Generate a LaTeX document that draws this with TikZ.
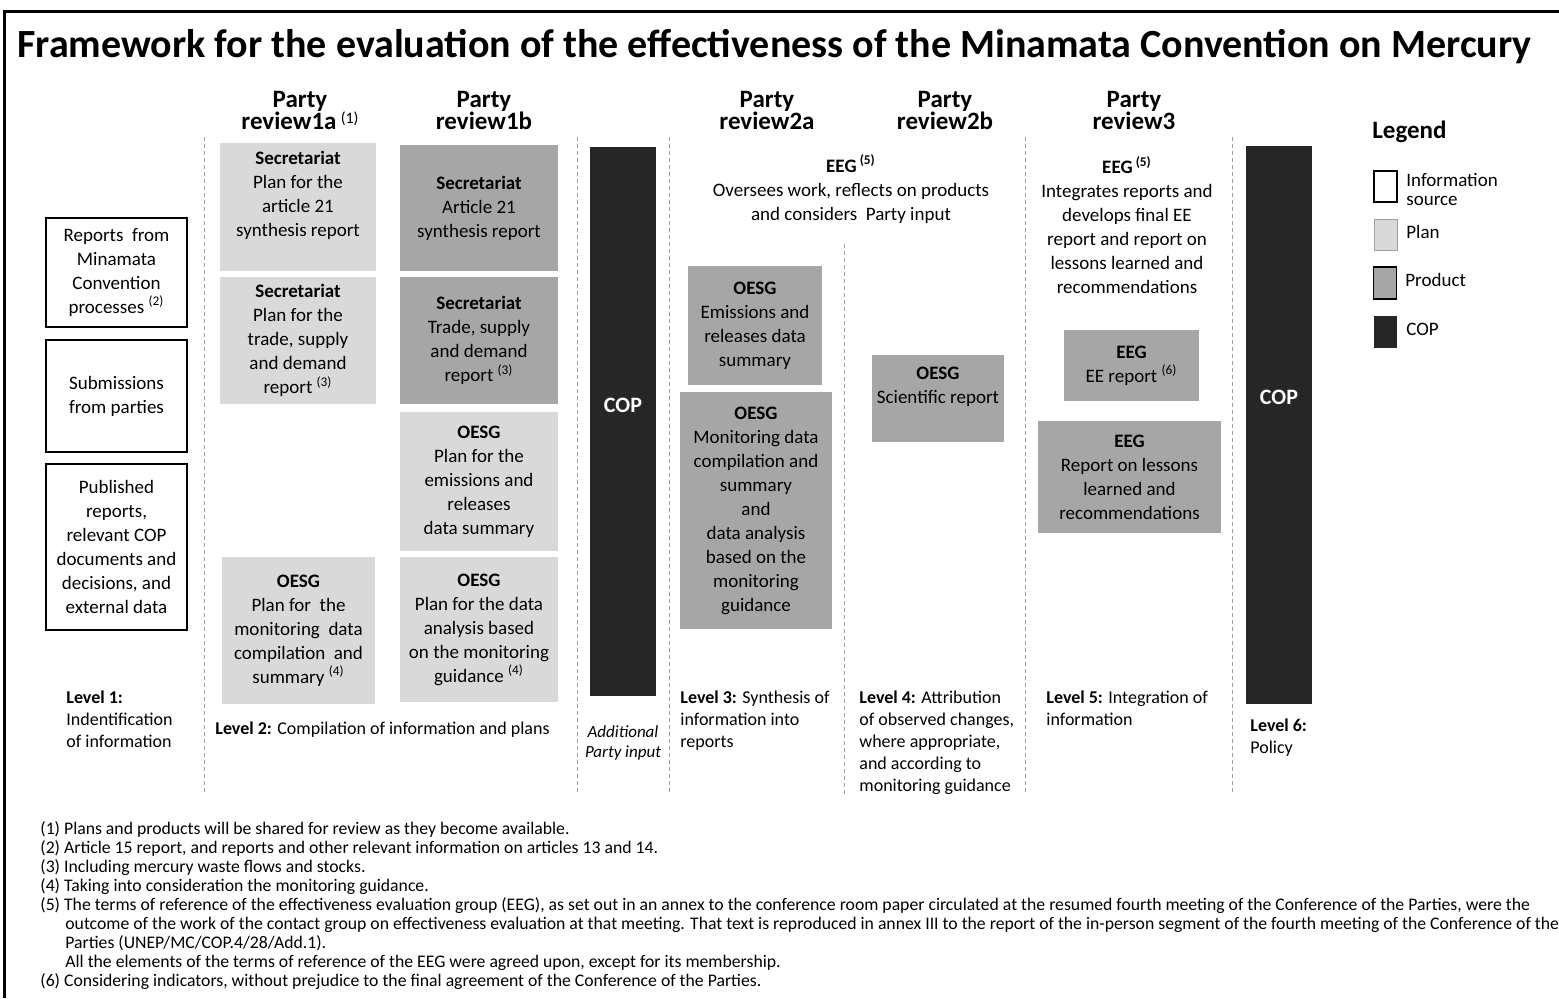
\documentclass[tikz,border=0pt]{standalone}
\usepackage{fontspec}
\setmainfont{Carlito}
\definecolor{planc}{HTML}{D9D9D9}
\definecolor{prodc}{HTML}{A6A6A6}
\definecolor{copc}{HTML}{262626}
\definecolor{sepc}{HTML}{A0A0A0}
\begin{document}
\begin{tikzpicture}[x=0.5pt,y=-0.5pt,
	every node/.style={font=\fontsize{9.5}{12}\selectfont,align=center,inner sep=0pt},
	sz/.style 2 args={minimum width=#1pt,minimum height=#2pt},
	src/.style={draw=black,line width=0.8pt,fill=white},
	plan/.style={fill=planc},
	prod/.style={fill=prodc},
	cop/.style={fill=copc,text=white,font=\fontsize{11}{12}\selectfont\bfseries},
	sep/.style={draw=sepc,dash pattern=on 2pt off 1.5pt,line width=0.5pt},
	hdr/.style={font={\fontsize{12.5}{11}\selectfont\bfseries\lineskiplimit=-\maxdimen}},
	lvl/.style={font=\fontsize{9}{11}\selectfont,align=left,anchor=north west},
	key/.style={font=\fontsize{9.5}{9.5}\selectfont,align=left,anchor=west}]
	\useasboundingbox (0,0) rectangle (1559,998);
	\draw[line width=1.5pt] (4,998) -- (4,11) -- (1559,11);
	\node[anchor=west,font=\fontsize{20}{24}\selectfont\bfseries] (title) at (17,47) {Framework for the evaluation of the effectiveness of the Minamata Convention on Mercury};
	
	\node[hdr] (h1a) at (300,110) {Party\\review1a\,\raisebox{3pt}{\fontsize{8}{8}\selectfont\mdseries(1)}};
	\node[hdr] (h1b) at (484,110) {Party\\review1b};
	\node[hdr] (h2a) at (767,110) {Party\\review2a};
	\node[hdr] (h2b) at (945,110) {Party\\review2b};
	\node[hdr] (h3) at (1134,110) {Party\\review3};
	
	\draw[sep] (204,137) -- (204,795);
	\draw[sep] (577,137) -- (577,795);
	\draw[sep] (669,137) -- (669,795);
	\draw[sep] (844,244) -- (844,795);
	\draw[sep] (1025,137) -- (1025,795);
	\draw[sep] (1232,137) -- (1232,795);
	
	\node[src,sz={70.5}{54.5}] (src1) at (116.5,272.5) {Reports\ \ from\\Minamata\\Convention\\processes \textsuperscript{(2)}};
	\node[src,sz={70.5}{56}] (src2) at (116.5,396) {Submissions\\from parties};
	\node[src,sz={70.5}{83}] (src3) at (116.5,547) {Published\\reports,\\relevant COP\\documents and\\decisions, and\\external data};
	\node[lvl] (lv1) at (66,690) {\textbf{Level 1:}\\Indentification\\of information};
	
	\node[plan,sz={78}{64},text depth=13pt] (pa1) at (298,207) {\textbf{Secretariat}\\Plan for the\\article 21\\synthesis report};
	\node[plan,sz={78}{63.5}] (pa2) at (298,340.5) {\textbf{Secretariat}\\Plan for the\\trade, supply\\and demand\\report \textsuperscript{(3)}};
	\node[plan,sz={76.5}{73.5}] (pa3) at (298.5,630.5) {\textbf{OESG}\\Plan for\ \ the\\monitoring\ \ data\\compilation\ \ and\\summary \textsuperscript{(4)}};
	\node[prod,sz={79}{63}] (pb1) at (479,208) {\textbf{Secretariat}\\Article 21\\synthesis report};
	\node[prod,sz={79}{63.5}] (pb2) at (479,340.5) {\textbf{Secretariat}\\Trade, supply\\and demand\\report \textsuperscript{(3)}};
	\node[plan,sz={79}{69.5}] (pb3) at (479,481.5) {\textbf{OESG}\\Plan for the\\emissions and\\releases\\data summary};
	\node[plan,sz={79}{72.5}] (pb4) at (479,629.5) {\textbf{OESG}\\Plan for the data\\analysis based\\on the monitoring\\guidance \textsuperscript{(4)}};
	\node[lvl,anchor=west] (lv2) at (215,730) {\textbf{Level 2:} Compilation of information and plans};
	
	\node[cop,sz={33}{274.5}] (cop1) at (623,421.5) {\raisebox{16pt}{COP}};
	\node[font=\fontsize{8.5}{10}\selectfont\itshape] (addin) at (623,743) {Additional\\Party input};
	
	\node (eeg2) at (851,189) {\textbf{EEG}\,\textsuperscript{\textbf{(5)}}\\Oversees work, reflects on products\\and considers\ \ Party input};
	\node[prod,sz={67}{59.5}] (pc1) at (755,325.5) {\textbf{OESG}\\Emissions and\\releases data\\summary};
	\node[prod,sz={76}{118.5}] (pc2) at (756,510.5) {\textbf{OESG}\\Monitoring data\\compilation and\\summary\\and\\data analysis\\based on the\\monitoring\\guidance};
	\node[lvl] (lv3) at (680,690) {\textbf{Level 3:} Synthesis of\\information into\\reports};
	\node[prod,sz={66}{43.5},text depth=13pt] (pd1) at (938,398.5) {\textbf{OESG}\\Scientific report};
	\node[lvl] (lv4) at (859,690) {\textbf{Level 4:} Attribution\\of observed changes,\\where appropriate,\\and according to\\monitoring guidance};
	
	\node (eeg3) at (1127,225) {\textbf{EEG}\,\textsuperscript{\textbf{(5)}}\\Integrates reports and\\develops final EE\\report and report on\\lessons learned and\\recommendations};
	\node[prod,sz={67.5}{35.5}] (pe1) at (1131.5,365.5) {\textbf{EEG}\\EE report \textsuperscript{(6)}};
	\node[prod,sz={91.5}{56}] (pe2) at (1129.5,477) {\textbf{EEG}\\Report on lessons\\learned and\\recommendations};
	\node[lvl] (lv5) at (1046,690) {\textbf{Level 5:} Integration of\\information};
	
	\node[cop,sz={33}{279}] (cop2) at (1279,425) {\raisebox{28pt}{COP}};
	\node[lvl] (lv6) at (1250,718) {\textbf{Level 6:}\\Policy};
	
	\node[anchor=west,font=\fontsize{12.5}{14}\selectfont\bfseries] (leg) at (1372,132) {Legend};
	\node[src,sz={11.5}{15.5}] (ksrc) at (1385.5,186.5) {};
	\node[plan,draw=sepc,sz={11.5}{15.5}] (kplan) at (1386,234.5) {};
	\node[prod,draw=black,line width=0.8pt,sz={11.5}{16}] (kprod) at (1385,283) {};
	\node[fill=copc,sz={11.5}{16}] (kcop) at (1385,331.5) {};
	\node[key] (tsrc) at (1406,189) {Information\\source};
	\node[key] (tplan) at (1406,232) {Plan};
	\node[key] (tprod) at (1405,280) {Product};
	\node[key] (tcop) at (1406,329) {COP};
	
	\node[anchor=north west,align=left,font=\fontsize{8.85}{9.5}\selectfont] (notes) at (40,821) {(1) Plans and products will be shared for review as they become available.\\
		(2) Article 15 report, and reports and other relevant information on articles 13 and 14.\\
		(3) Including mercury waste flows and stocks.\\
		(4) Taking into consideration the monitoring guidance.\\
		(5) The terms of reference of the effectiveness evaluation group (EEG), as set out in an annex to the conference room paper circulated at the resumed fourth meeting of the Conference of the Parties, were the\\
		\hspace*{12.5pt}outcome of the work of the contact group on effectiveness evaluation at that meeting. That text is reproduced in annex III to the report of the in-person segment of the fourth meeting of the Conference of the\\
		\hspace*{12.5pt}Parties (UNEP/MC/COP.4/28/Add.1).\\
		\hspace*{12.5pt}All the elements of the terms of reference of the EEG were agreed upon, except for its membership.\\
		(6) Considering indicators, without prejudice to the final agreement of the Conference of the Parties.};
\end{tikzpicture}
\end{document}
